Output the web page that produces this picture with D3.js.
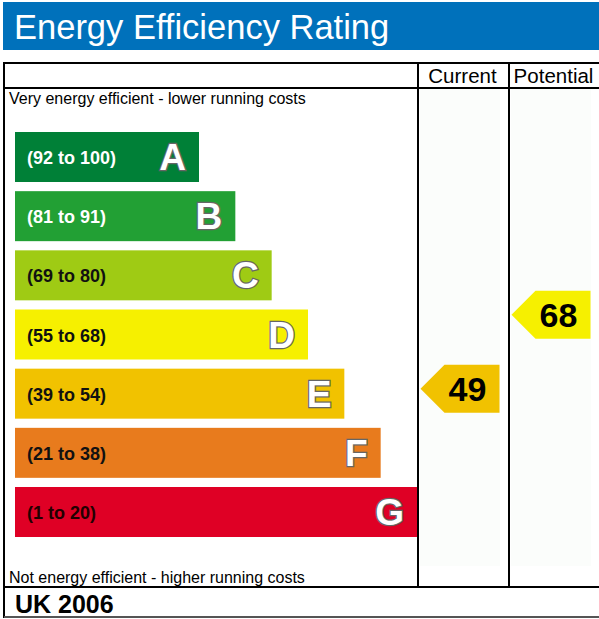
<!DOCTYPE html>
<html>
<head>
<meta charset="utf-8">
<script src="https://cdn.jsdelivr.net/npm/d3@7"></script>
<style>
  body { margin: 0; background: #fff; }
  svg { display: block; font-family: "Liberation Sans", Arial, sans-serif; }
</style>
</head>
<body>
<div id="vis"></div>
<script>
// rating bands
var letters = ["A", "B", "C", "D", "E", "F", "G"];
var ranges = ["(92 to 100)", "(81 to 91)", "(69 to 80)", "(55 to 68)", "(39 to 54)", "(21 to 38)", "(1 to 20)"];
var colours = ["#008037", "#22a034", "#9fcb14", "#f6f000", "#f1c200", "#e87b1d", "#df0025"];
var labelColours = ["#fff", "#fff", "#111", "#111", "#111", "#111", "#200"];

// scores
var columns = ["Current", "Potential"];
var scores = [49, 68];
var scoreBands = ["E", "D"];

var W = 599, H = 619;
var svg = d3.select("#vis").append("svg").attr("width", W).attr("height", H);

// header
svg.append("rect").attr("x", 3).attr("y", 2).attr("width", W - 3).attr("height", 48).attr("fill", "#0071bb");
svg.append("text").attr("x", 14).attr("y", 39).attr("fill", "#fff")
  .style("font-size", "34.5px").text("Energy Efficiency Rating");

var y = d3.scaleBand().domain(letters).range([132, 537]).paddingInner(0.155);
var xEnd = d3.scaleLinear().domain([0, 6]).range([199, 417]);
var colX = d3.scaleBand().domain(columns).range([418, 600]);
var scoreY = d3.scaleLinear().domain([1, 100]).range([576, 190]);

// faint column fills
svg.selectAll(".colfill").data(columns).enter().append("rect")
  .attr("x", function(d) { return colX(d) + 2; })
  .attr("y", 89)
  .attr("width", colX.bandwidth() - 11)
  .attr("height", 477)
  .attr("fill", "#fbfdfb");

// bars
var g = svg.selectAll(".band").data(letters).enter().append("g");
g.append("rect")
  .attr("x", 15)
  .attr("y", function(d) { return y(d); })
  .attr("width", function(d, i) { return xEnd(i) - 15; })
  .attr("height", y.bandwidth())
  .attr("fill", function(d, i) { return colours[i]; });
g.append("text")
  .attr("x", 27)
  .attr("y", function(d) { return y(d) + y.bandwidth() / 2 + 7; })
  .attr("fill", function(d, i) { return labelColours[i]; })
  .style("font-weight", "bold")
  .style("font-size", "18px")
  .text(function(d, i) { return ranges[i]; });
g.append("text")
  .attr("x", function(d, i) { return xEnd(i) - 13; })
  .attr("y", function(d) { return y(d) + y.bandwidth() / 2 + 13; })
  .attr("text-anchor", "end")
  .attr("fill", "#fff")
  .attr("stroke", "#666")
  .attr("stroke-width", 2.5)
  .attr("paint-order", "stroke")
  .style("font-size", "37px")
  .style("font-weight", "bold")
  .text(function(d) { return d; });

// table lines
var line = function(x1, y1, x2, y2, w, c) {
  svg.append("line").attr("x1", x1).attr("y1", y1).attr("x2", x2).attr("y2", y2)
    .attr("stroke", c || "#000").attr("stroke-width", w || 2);
};
line(3, 63, W, 63, 2);
line(4, 63, 4, 618, 2);
line(4, 88, W, 88, 2);
line(418, 63, 418, 587, 2);
line(509, 63, 509, 587, 2);
line(4, 587, W, 587, 2);
line(4, 617, W, 617, 2, "#555");

svg.selectAll(".colhead").data(columns).enter().append("text")
  .attr("x", function(d) { return colX(d) + colX.bandwidth() / 2 - 1; })
  .attr("y", 83)
  .attr("text-anchor", "middle")
  .style("font-size", "20.5px")
  .text(function(d) { return d; });

svg.append("text").attr("x", 9).attr("y", 104).style("font-size", "16px")
  .text("Very energy efficient - lower running costs");
svg.append("text").attr("x", 9).attr("y", 583).style("font-size", "16px")
  .text("Not energy efficient - higher running costs");
svg.append("text").attr("x", 15).attr("y", 613).style("font-size", "25px").style("font-weight", "bold")
  .text("UK 2006");

// score arrows
var arrows = svg.selectAll(".arrow").data(scores).enter().append("g")
  .attr("transform", function(d, i) { return "translate(" + (colX(columns[i]) + 2.5) + "," + scoreY(d) + ")"; });
arrows.append("path")
  .attr("d", "M0,0 L24,-24 L79,-24 L79,24 L24,24 Z")
  .attr("fill", function(d, i) { return colours[letters.indexOf(scoreBands[i])]; });
arrows.append("text")
  .attr("x", 47)
  .attr("y", 12)
  .attr("text-anchor", "middle")
  .style("font-size", "34px")
  .style("font-weight", "bold")
  .text(function(d) { return d; });
</script>
</body>
</html>
